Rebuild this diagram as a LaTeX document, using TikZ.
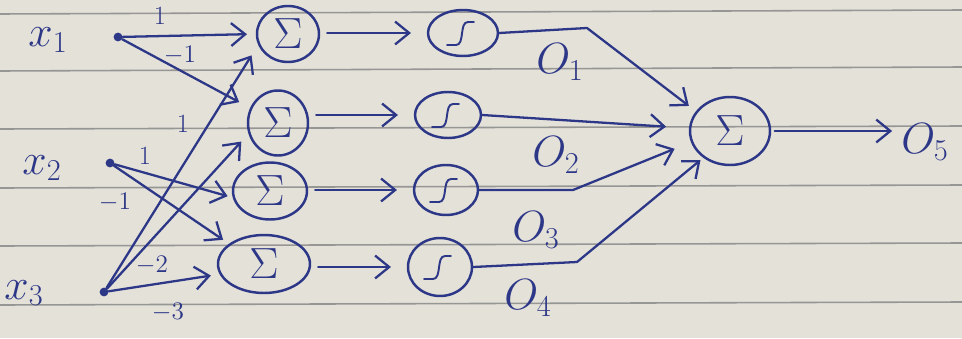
\documentclass[tikz,border=0pt]{standalone}
\usetikzlibrary{shapes.geometric,arrows.meta}
\definecolor{paper}{RGB}{228,225,217}
\definecolor{rulecol}{RGB}{150,150,148}
\definecolor{ink}{RGB}{45,55,135}
\begin{document}
\begin{tikzpicture}[x=0.02cm,y=-0.02cm,
  inkline/.style={draw=ink, line width=1.3pt, line cap=round, line join=round},
  arr/.style={inkline, -{Straight Barb[length=8pt,width=13pt]}},
  sumnode/.style={ellipse, draw=ink, line width=1.4pt, inner sep=0pt, text=ink, font=\fontsize{28}{28}\selectfont},
  signode/.style={ellipse, draw=ink, line width=1.4pt, inner sep=0pt},
  dot/.style={circle, fill=ink, inner sep=0pt, minimum size=5pt},
  lbl/.style={text=ink, font=\fontsize{15}{15}\selectfont, inner sep=1pt},
  var/.style={text=ink, font=\fontsize{24}{24}\selectfont, inner sep=1pt},
]
\fill[paper] (0,0) rectangle (962,338);
\useasboundingbox (0,0) rectangle (962,338);
\foreach \a/\b in {14/10, 71/67, 129/126, 188/185, 246/243, 305/302}
  \draw[rulecol, line width=0.9pt] (0,\a) -- (962,\b);

% inputs
\node[dot] (d1) at (118,37) {};
\node[dot] (d2) at (110,163) {};
\node[dot] (d3) at (104,292) {};
\node[var] (x1) at (48,40) {$x_1$};
\node[var] (x2) at (42,168) {$x_2$};
\node[var] (x3) at (24,293) {$x_3$};

% summation nodes
\node[sumnode, minimum width=1.24cm, minimum height=1.12cm] (s1) at (288,34) {$\Sigma$};
\node[sumnode, minimum width=1.2cm, minimum height=1.3cm] (s2) at (278,123) {$\Sigma$};
\node[sumnode, minimum width=1.48cm, minimum height=1.14cm] (s3) at (270,191) {$\Sigma$};
\node[sumnode, minimum width=1.84cm, minimum height=1.16cm] (s4) at (264,264) {$\Sigma$};

% sigmoid nodes
\node[signode, minimum width=1.4cm, minimum height=0.92cm] (g1) at (463,33) {};
\node[signode, minimum width=1.32cm, minimum height=0.92cm] (g2) at (448,115) {};
\node[signode, minimum width=1.28cm, minimum height=1.0cm] (g3) at (446,190) {};
\node[signode, minimum width=1.28cm, minimum height=1.16cm] (g4) at (440,267) {};
\foreach \i in {1,...,4}
  \draw[inkline, line width=1.1pt, shift={(g\i.center)}]
    (-16,12) -- (-7,12) .. controls (2,12) and (-4,-11) .. (5,-11) -- (11,-11);

% output summation
\node[sumnode, minimum width=1.6cm, minimum height=1.36cm] (f) at (730,131) {$\Sigma$};
\node[var] (o5) at (925,142) {$O_5$};

% weight labels
\node[lbl] (w1) at (160,16) {1};
\node[lbl] (w2) at (180,55) {$-1$};
\node[lbl] (w3) at (183,124) {1};
\node[lbl] (w4) at (145,156) {1};
\node[lbl] (w5) at (115,202) {$-1$};
\node[lbl] (w6) at (152,265) {$-2$};
\node[lbl] (w7) at (168,312) {$-3$};

% output labels
\node[var] (o1) at (560,62) {$O_1$};
\node[var] (o2) at (556,155) {$O_2$};
\node[var] (o3) at (536,230) {$O_3$};
\node[var] (o4) at (528,298) {$O_4$};

% input connections
\draw[arr, shorten >=5pt] (d1) -- (s1.west);
\draw[arr, shorten >=7pt] (d1) -- (s2);
\draw[arr, shorten >=7pt] (d3) -- (s1.200);
\draw[arr, shorten >=6pt] (d3) -- (s2.200);
\draw[arr, shorten >=3pt] (d2) -- (s3.190);
\draw[arr, shorten >=4pt] (d2) -- (s4.150);
\draw[arr, shorten >=5pt] (d3) -- (s4.193);

% sum -> sigmoid
\foreach \i in {1,...,4}
  \draw[arr, shorten <=4pt, shorten >=9pt] (s\i.east |- g\i.west) -- (g\i.west);

% sigmoid -> output sum
\coordinate (c1) at (587,28);
\coordinate (c3) at (573,190);
\coordinate (c4) at (577,262);
\draw[arr, shorten >=5pt] (g1.east) -- (c1) -- (f.150);
\draw[arr, shorten >=13pt] (g2.east) -- (f.176);
\draw[arr, shorten >=10pt] (g3.east) -- (c3) -- (f.196);
\draw[arr, shorten >=2pt] (g4.east) -- (c4) -- (f.225);
\draw[arr, shorten <=2pt, shorten >=4pt] (f.east) -- (f.east -| o5.west);
\end{tikzpicture}
\end{document}
